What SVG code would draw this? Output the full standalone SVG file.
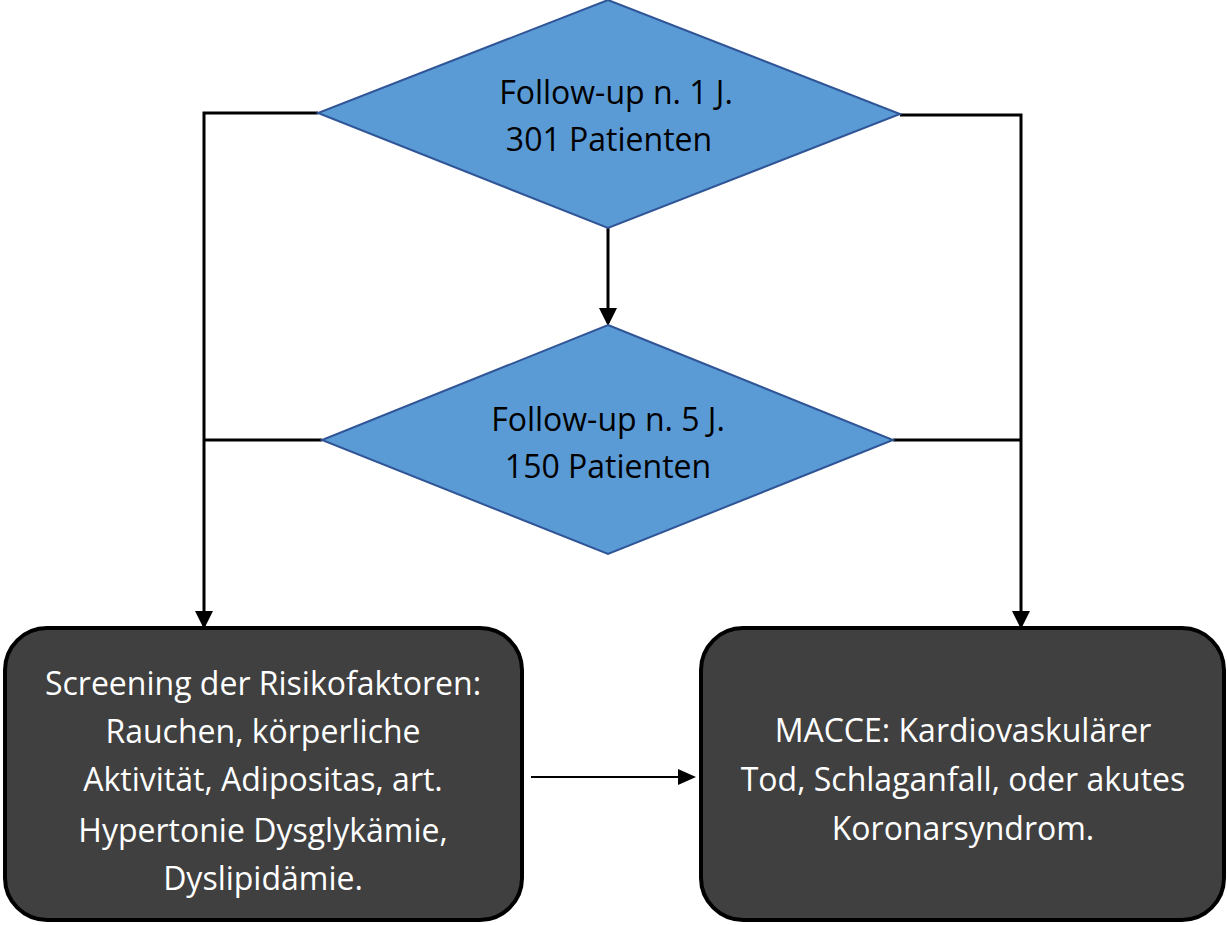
<svg xmlns="http://www.w3.org/2000/svg" width="1227" height="925" viewBox="0 0 1227 925">
<style>
.dia{fill:#5b9bd5;stroke:#2f5597;stroke-width:2}
.box{fill:#404040;stroke:#000;stroke-width:4}
.ln{fill:none;stroke:#000;stroke-width:3}
.t{font-family:"Open Sans","Noto Sans",sans-serif;font-size:32px;text-anchor:middle}
.dk{fill:#000}
.wt{fill:#fff}
</style>
<defs>
<marker id="ah" markerWidth="6" markerHeight="6" refX="5" refY="3" orient="auto" markerUnits="strokeWidth">
<path d="M0,0 L6,3 L0,6 Z" fill="#000"/>
</marker>
<marker id="ah2" markerWidth="9" markerHeight="8" refX="8" refY="4" orient="auto" markerUnits="strokeWidth">
<path d="M0,0 L9,4 L0,8 Z" fill="#000"/>
</marker>
</defs>
<g id="connectors">
<path class="ln" d="M318,113 H204 V626" marker-end="url(#ah)"/>
<path class="ln" d="M322,440 H204"/>
<path class="ln" d="M900,115 H1021 V626" marker-end="url(#ah)"/>
<path class="ln" d="M893,440 H1021"/>
<path class="ln" d="M608,228 V323" marker-end="url(#ah)"/>
<path fill="none" stroke="#000" stroke-width="2" d="M531,777 H694" marker-end="url(#ah2)"/>
</g>
<g id="node-fu1">
<polygon class="dia" points="608,0 900,114 608,228 318,113"/>
<text class="t dk" x="616" y="104">Follow-up n. 1 J.</text>
<text class="t dk" x="609" y="151">301 Patienten</text>
</g>
<g id="node-fu5">
<polygon class="dia" points="608,325 893,440 608,554 322,440"/>
<text class="t dk" x="608" y="431">Follow-up n. 5 J.</text>
<text class="t dk" x="608" y="478">150 Patienten</text>
</g>
<g id="node-screening">
<rect class="box" x="5" y="628" width="517" height="292" rx="42"/>
<text class="t wt" x="263" y="695">Screening der Risikofaktoren:</text>
<text class="t wt" x="263" y="743">Rauchen, körperliche</text>
<text class="t wt" x="263" y="791">Aktivität, Adipositas, art.</text>
<text class="t wt" x="263" y="842">Hypertonie Dysglykämie,</text>
<text class="t wt" x="263" y="890">Dyslipidämie.</text>
</g>
<g id="node-macce">
<rect class="box" x="701" y="628" width="523" height="292" rx="42"/>
<text class="t wt" x="963" y="742">MACCE: Kardiovaskulärer</text>
<text class="t wt" x="963" y="791">Tod, Schlaganfall, oder akutes</text>
<text class="t wt" x="963" y="840">Koronarsyndrom.</text>
</g>
</svg>
